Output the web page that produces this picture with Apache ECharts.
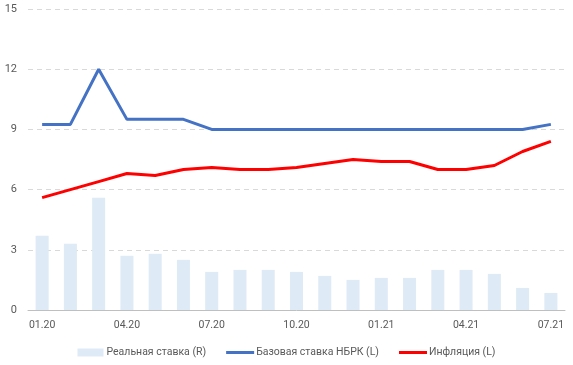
<!DOCTYPE html>
<html><head><meta charset="utf-8">
<script src="https://cdn.jsdelivr.net/npm/echarts@6/dist/echarts.min.js"></script>
<style>html,body{margin:0;padding:0;background:#fff}#c{width:573px;height:365px}</style>
</head><body><div id="c"></div>
<script>
const categories = ['01.20','02.20','03.20','04.20','05.20','06.20','07.20','08.20','09.20','10.20','11.20','12.20','01.21','02.21','03.21','04.21','05.21','06.21','07.21'];
const realRate = [3.7,3.3,5.6,2.7,2.8,2.5,1.9,2.0,2.0,1.9,1.7,1.5,1.6,1.6,2.0,2.0,1.8,1.1,0.85];
const baseRate = [9.25,9.25,12,9.5,9.5,9.5,9,9,9,9,9,9,9,9,9,9,9,9,9.25];
const inflation = [5.6,6.0,6.4,6.8,6.7,7.0,7.1,7.0,7.0,7.1,7.3,7.5,7.4,7.4,7.0,7.0,7.2,7.9,8.4];
const yTicks = [0,3,6,9,12,15];
const names = ['Реальная ставка (R)','Базовая ставка НБРК (L)','Инфляция (L)'];
const font = '"Roboto", sans-serif';
const chart = echarts.init(document.getElementById('c'));
chart.setOption({
  animation:false,
  grid:{left:28,right:8,top:9,bottom:55,containLabel:false},
  legend:{
    bottom:2, left:'center', itemGap:20, itemWidth:28, itemHeight:8,
    textStyle:{color:'#595959',fontSize:10.5,fontFamily:font,padding:[0,0,0,-3]},
    data:[
      {name:names[0],icon:'path://M0,0H26V8H0Z'},
      {name:names[1],icon:'path://M0,0H28V3H0Z'},
      {name:names[2],icon:'path://M0,0H28V3H0Z'}
    ]
  },
  xAxis:{
    type:'category', data:categories, boundaryGap:true,
    axisLine:{lineStyle:{color:'#BFBFBF'}},
    axisTick:{interval:2,length:5,lineStyle:{color:'#BFBFBF'}},
    axisLabel:{interval:2,color:'#595959',fontSize:10.5,fontFamily:font,margin:10}
  },
  yAxis:[
    {type:'value',min:yTicks[0],max:yTicks[yTicks.length-1],interval:3,
     axisLine:{show:false},axisTick:{show:false},
     axisLabel:{color:'#595959',fontSize:11,fontFamily:font,margin:11},
     splitLine:{lineStyle:{color:'#D9D9D9',type:[5,4]}}},
    {type:'value',min:0,max:15,interval:3,show:false}
  ],
  series:[
    {name:names[0],type:'bar',yAxisIndex:1,data:realRate,barWidth:13,
     itemStyle:{color:'#DEEAF6'}},
    {name:names[1],type:'line',data:baseRate,showSymbol:false,symbol:'none',
     lineStyle:{color:'#4472C4',width:3},itemStyle:{color:'#4472C4'}},
    {name:names[2],type:'line',data:inflation,showSymbol:false,symbol:'none',
     lineStyle:{color:'#FF0000',width:3},itemStyle:{color:'#FF0000'}}
  ]
});
</script></body></html>
